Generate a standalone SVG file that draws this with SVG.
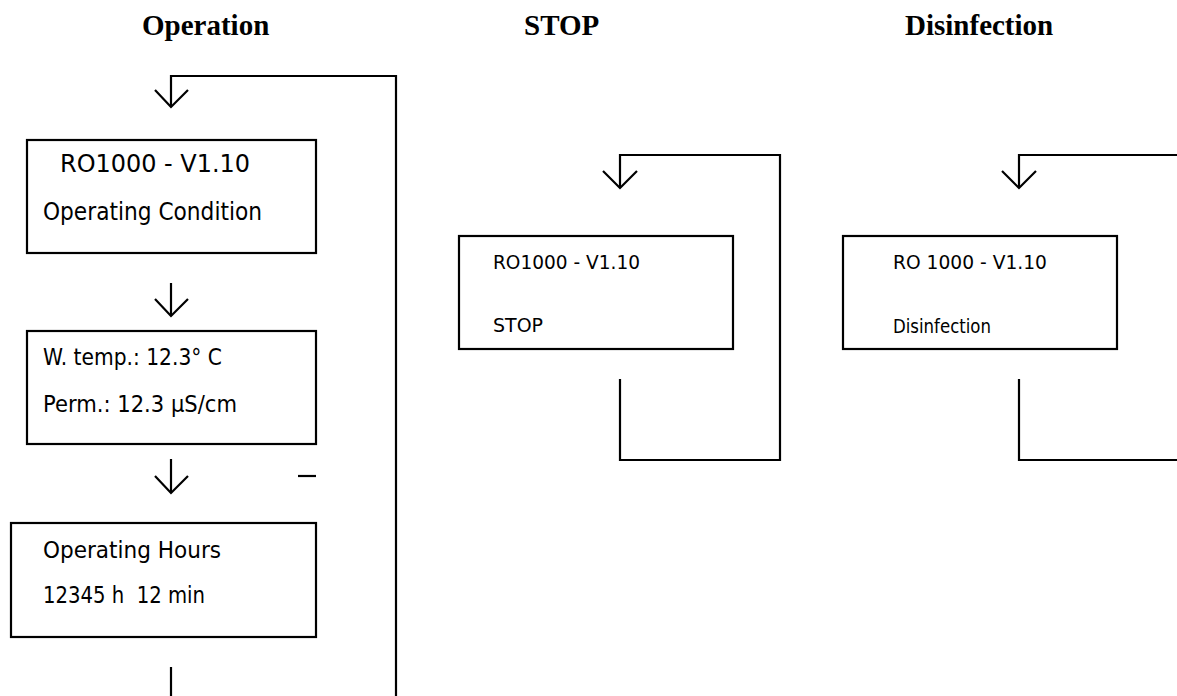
<svg xmlns="http://www.w3.org/2000/svg" width="1177" height="696" viewBox="0 0 1177 696">
<style>
.title{font-family:"Liberation Serif","Times New Roman",serif;font-weight:bold;font-size:29px;fill:#000}
.t{font-family:"DejaVu Sans","Liberation Sans",sans-serif;fill:#000}
.box{fill:#fff;stroke:#000;stroke-width:2.2}
.ln{fill:none;stroke:#000;stroke-width:2.2}
</style>
<rect width="1177" height="696" fill="#fff"/>
<g id="titles">
<text class="title" x="142" y="35">Operation</text>
<text class="title" x="524" y="35">STOP</text>
<text class="title" x="905" y="35">Disinfection</text>
</g>
<g id="connectors">
<path class="ln" d="M171,107 V76 H396 V696"/>
<path class="ln" d="M155,90 L171,107 L188,90"/>
<path class="ln" d="M171,283 V316"/>
<path class="ln" d="M155,299 L171,316 L188,299"/>
<path class="ln" d="M171,459 V493"/>
<path class="ln" d="M155,476 L171,493 L188,476"/>
<path class="ln" d="M298,476 H316"/>
<path class="ln" d="M171,667 V696"/>
<path class="ln" d="M620,188 V155 H780 V460 H620 V379"/>
<path class="ln" d="M603,171 L620,188 L637,171"/>
<path class="ln" d="M1019,188 V155 H1178"/>
<path class="ln" d="M1002,171 L1019,188 L1036,171"/>
<path class="ln" d="M1019,379 V460 H1178"/>
</g>
<g id="node-operating">
<rect class="box" x="27" y="140" width="289" height="113"/>
<text class="t" x="60" y="172" font-size="25" textLength="190" lengthAdjust="spacingAndGlyphs">RO1000 - V1.10</text>
<text class="t" x="43" y="220" font-size="24" textLength="219" lengthAdjust="spacingAndGlyphs">Operating Condition</text>
</g>
<g id="node-temp">
<rect class="box" x="27" y="331" width="289" height="113"/>
<text class="t" x="43" y="365" font-size="23" textLength="179" lengthAdjust="spacingAndGlyphs">W. temp.: 12.3° C</text>
<text class="t" x="43" y="412" font-size="23" textLength="194" lengthAdjust="spacingAndGlyphs">Perm.: 12.3 µS/cm</text>
</g>
<g id="node-hours">
<rect class="box" x="11" y="523" width="305" height="114"/>
<text class="t" x="43" y="558" font-size="23" textLength="178" lengthAdjust="spacingAndGlyphs">Operating Hours</text>
<text class="t" x="43" y="603" font-size="23" textLength="162" lengthAdjust="spacingAndGlyphs" xml:space="preserve">12345 h  12 min</text>
</g>
<g id="node-stop">
<rect class="box" x="459" y="236" width="274" height="113"/>
<text class="t" x="493" y="269" font-size="20" textLength="147" lengthAdjust="spacingAndGlyphs">RO1000 - V1.10</text>
<text class="t" x="493" y="332" font-size="20" textLength="50" lengthAdjust="spacingAndGlyphs">STOP</text>
</g>
<g id="node-disinfection">
<rect class="box" x="843" y="236" width="274" height="113"/>
<text class="t" x="893" y="269" font-size="20" textLength="154" lengthAdjust="spacingAndGlyphs">RO 1000 - V1.10</text>
<text class="t" x="893" y="333" font-size="20" textLength="98" lengthAdjust="spacingAndGlyphs">Disinfection</text>
</g>
</svg>
